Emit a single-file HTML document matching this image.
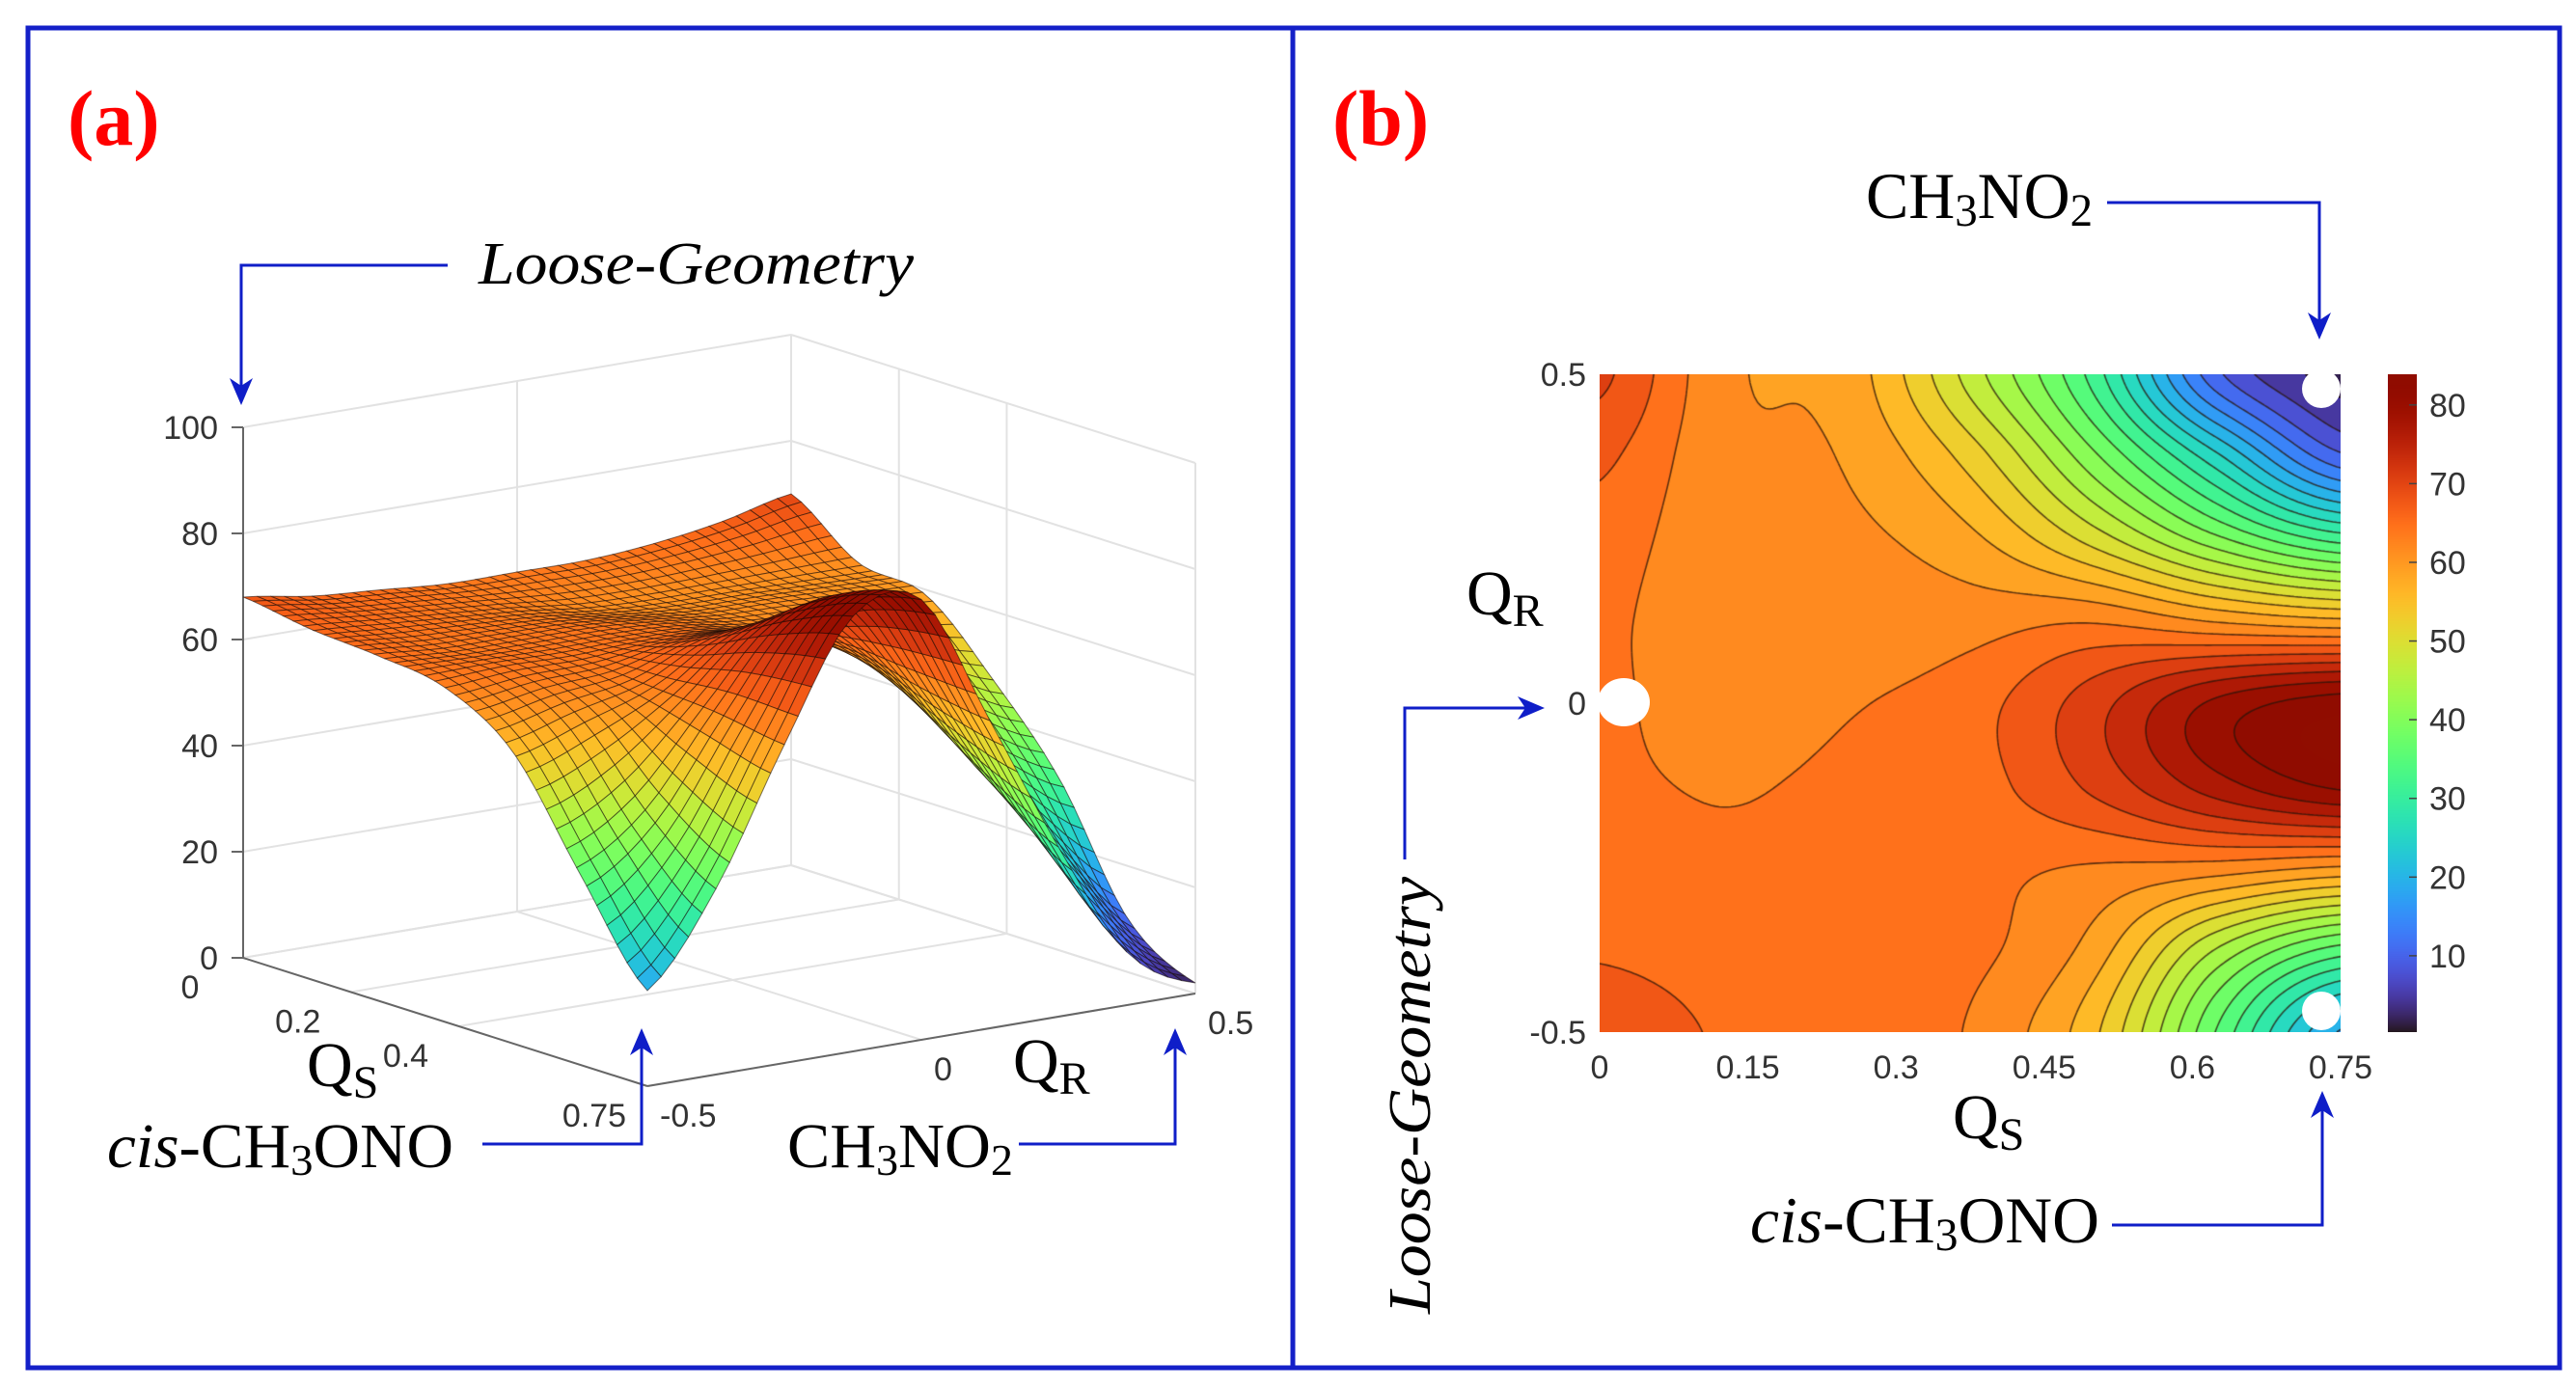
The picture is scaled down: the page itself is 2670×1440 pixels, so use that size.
<!DOCTYPE html>
<html><head><meta charset="utf-8">
<style>
html,body{margin:0;padding:0;background:#fff;}
#wrap{position:relative;width:2670px;height:1440px;overflow:hidden;}
canvas,svg{position:absolute;left:0;top:0;}
</style></head>
<body>
<div id="wrap">
<canvas id="cmap" width="768" height="682" style="left:1658px;top:388px;"></canvas>
<canvas id="cbar" width="30" height="682" style="left:2475px;top:388px;"></canvas>
<svg id="svg" width="2670" height="1440" viewBox="0 0 2670 1440">
 <rect x="29" y="29" width="2624" height="1389" fill="none" stroke="#1420c8" stroke-width="5"/>
 <line x1="1340" y1="29" x2="1340" y2="1418" stroke="#1420c8" stroke-width="5"/>
 <g id="plot3d"></g>
 <g id="overlay" font-family="Liberation Serif, serif">
  <text x="70" y="150" font-size="82" font-weight="bold" fill="#ff0000">(a)</text>
  <text x="1381" y="150" font-size="82" font-weight="bold" fill="#ff0000">(b)</text>

  <text x="496" y="294" font-size="62" font-style="italic" textLength="451" lengthAdjust="spacingAndGlyphs">Loose-Geometry</text>
  <polyline points="464,275 250,275 250,412" fill="none" stroke="#0f1ec8" stroke-width="3"/>
  <polygon points="250,420 238,392 250,400 262,392" fill="#0f1ec8"/>

  <text x="111" y="1210" font-size="66" textLength="359" lengthAdjust="spacingAndGlyphs"><tspan font-style="italic">cis</tspan>-CH<tspan font-size="46" dy="8">3</tspan><tspan dy="-8">ONO</tspan></text>
  <polyline points="500,1186 665,1186 665,1074" fill="none" stroke="#0f1ec8" stroke-width="3"/>
  <polygon points="665,1066 653,1094 665,1086 677,1094" fill="#0f1ec8"/>

  <text x="816" y="1210" font-size="66" textLength="234" lengthAdjust="spacingAndGlyphs">CH<tspan font-size="46" dy="8">3</tspan><tspan dy="-8">NO</tspan><tspan font-size="46" dy="8">2</tspan></text>
  <polyline points="1056,1186 1218,1186 1218,1074" fill="none" stroke="#0f1ec8" stroke-width="3"/>
  <polygon points="1218,1066 1206,1094 1218,1086 1230,1094" fill="#0f1ec8"/>

  <text x="318" y="1126" font-size="66">Q<tspan font-size="48" dy="12">S</tspan></text>
  <text x="1050" y="1122" font-size="66">Q<tspan font-size="48" dy="12">R</tspan></text>

  <text x="1934" y="226" font-size="68" textLength="235" lengthAdjust="spacingAndGlyphs">CH<tspan font-size="48" dy="8">3</tspan><tspan dy="-8">NO</tspan><tspan font-size="48" dy="8">2</tspan></text>
  <polyline points="2184,210 2404,210 2404,343" fill="none" stroke="#0f1ec8" stroke-width="3"/>
  <polygon points="2404,352 2392,324 2404,332 2416,324" fill="#0f1ec8"/>

  <text x="1814" y="1288" font-size="68" textLength="362" lengthAdjust="spacingAndGlyphs"><tspan font-style="italic">cis</tspan>-CH<tspan font-size="48" dy="8">3</tspan><tspan dy="-8">ONO</tspan></text>
  <polyline points="2189,1270 2407,1270 2407,1140" fill="none" stroke="#0f1ec8" stroke-width="3"/>
  <polygon points="2407,1131 2395,1159 2407,1151 2419,1159" fill="#0f1ec8"/>

  <text transform="translate(1482,1362) rotate(-90)" x="0" y="0" font-size="62" font-style="italic" textLength="453" lengthAdjust="spacingAndGlyphs">Loose-Geometry</text>
  <polyline points="1456,891 1456,734 1592,734" fill="none" stroke="#0f1ec8" stroke-width="3"/>
  <polygon points="1601,734 1573,722 1581,734 1573,746" fill="#0f1ec8"/>

  <text x="1520" y="637" font-size="66">Q<tspan font-size="48" dy="12">R</tspan></text>
  <text x="2024" y="1180" font-size="66">Q<tspan font-size="48" dy="12">S</tspan></text>
 </g>
 <g id="axesb" font-family="Liberation Sans, sans-serif" font-size="34" fill="#333"></g>
 <ellipse cx="1683" cy="728" rx="27" ry="25" fill="#fff"/>
 <ellipse cx="2406" cy="403" rx="20" ry="20" fill="#fff"/>
 <ellipse cx="2406" cy="1048" rx="20" ry="20" fill="#fff"/>
</svg>
</div>
<script>
// ---- data (energy surface) ----
const qsVals=[0,0.125,0.25,0.375,0.5,0.625,0.75];
const qrVals=[-0.5,-0.375,-0.25,-0.125,0,0.125,0.25,0.375,0.5];
const energy=[
 [68,66,65,64,64,64,65,67,70],
 [66,65,64,63,61.5,61,61,61,61],
 [65,64,64,64,63,61.5,61,60,59],
 [63,64,64,65,65,62,58,53,47],
 [55,59,63,70,71,63,50,40,32],
 [36,45,62,77,79,60,40,25,10],
 [18,35,60,82,83,58,32,10,2]];
const zTicks=[0,20,40,60,80,100];
const qsTicks3d=[0,0.2,0.4,0.75];
const qsTickLabels3d=['0','0.2','0.4','0.75'];
const qrTicks3d=[-0.5,0,0.5];
const qrTickLabels3d=['-0.5','0','0.5'];
const qsTicksB=[0,0.15,0.3,0.45,0.6,0.75];
const qsTickLabelsB=['0','0.15','0.3','0.45','0.6','0.75'];
const qrTicksB=[-0.5,0,0.5];
const qrTickLabelsB=['-0.5','0','0.5'];
const cbTicks=[10,20,30,40,50,60,70,80];
const cMin=0.3, cMax=83.9, levelStep=3;

const NS='http://www.w3.org/2000/svg';
function turbo(t){t=Math.max(0,Math.min(1,t));
 const r=0.13572138+t*(4.61539260+t*(-42.66032258+t*(132.13108234+t*(-152.94239396+t*59.28637943))));
 const g=0.09140261+t*(2.19418839+t*(4.84296658+t*(-14.18503333+t*(4.27729857+t*2.82956604))));
 const b=0.10667330+t*(12.64194608+t*(-60.58204836+t*(110.36276771+t*(-89.90310912+t*27.34824973))));
 return [Math.round(255*Math.max(0,Math.min(1,r))),Math.round(255*Math.max(0,Math.min(1,g))),Math.round(255*Math.max(0,Math.min(1,b)))];}
function cr(p0,p1,p2,p3,t){return 0.5*((2*p1)+(-p0+p2)*t+(2*p0-5*p1+4*p2-p3)*t*t+(-p0+3*p1-3*p2+p3)*t*t*t);}
function getE(i,j){i=Math.max(0,Math.min(qsVals.length-1,i));j=Math.max(0,Math.min(qrVals.length-1,j));return energy[i][j];}
function E(qs,qr){
 const u=(qs-qsVals[0])/(qsVals[1]-qsVals[0]), v=(qr-qrVals[0])/(qrVals[1]-qrVals[0]);
 let i=Math.min(Math.floor(u),qsVals.length-2), j=Math.min(Math.floor(v),qrVals.length-2);
 i=Math.max(0,i); j=Math.max(0,j);
 const tu=u-i, tv=v-j, col=[];
 for(let a=-1;a<=2;a++){col.push(cr(getE(i+a,j-1),getE(i+a,j),getE(i+a,j+1),getE(i+a,j+2),tv));}
 return cr(col[0],col[1],col[2],col[3],tu);}

// ---- panel (b) contour ----
const PX0=1658,PX1=2426,PY0=388,PY1=1070;
const xB=q=>PX0+(q-0)/(0.75)*(PX1-PX0);
const yB=q=>PY1-(q+0.5)/1*(PY1-PY0);
(function(){
 const c=document.getElementById('cmap'),ctx=c.getContext('2d');
 const W=c.width,H=c.height,img=ctx.createImageData(W,H);
 const lvl=v=>Math.floor((v-cMin)/levelStep);
 for(let y=0;y<H;y++){const qr=0.5-(y+0.5)/H;
  for(let x=0;x<W;x++){const qs=(x+0.5)/W*0.75;const v=E(qs,qr);
   const k=lvl(v);const mid=Math.min(cMax,cMin+(k+0.5)*levelStep);
   const col=turbo((mid-cMin)/(cMax-cMin));const o=(y*W+x)*4;
   img.data[o]=col[0];img.data[o+1]=col[1];img.data[o+2]=col[2];img.data[o+3]=255;}}
 ctx.putImageData(img,0,0);
 const NX=192,NY=170,g=[];
 for(let i=0;i<=NX;i++){g.push([]);for(let j=0;j<=NY;j++){g[i].push(E(i/NX*0.75,0.5-j/NY));}}
 ctx.strokeStyle='rgba(40,20,10,0.75)';ctx.lineWidth=1.6;ctx.beginPath();
 const sx=W/NX,sy=H/NY;
 for(let L=cMin+levelStep;L<cMax;L+=levelStep){
  for(let i=0;i<NX;i++)for(let j=0;j<NY;j++){
   const a=g[i][j],b=g[i+1][j],cc=g[i+1][j+1],d=g[i][j+1];const pts=[];
   const ed=(v1,v2,x1,y1,x2,y2)=>{if((v1<L)!==(v2<L)){const t=(L-v1)/(v2-v1);pts.push([x1+(x2-x1)*t,y1+(y2-y1)*t]);}};
   ed(a,b,i,j,i+1,j);ed(b,cc,i+1,j,i+1,j+1);ed(cc,d,i+1,j+1,i,j+1);ed(d,a,i,j+1,i,j);
   for(let p=0;p+1<pts.length;p+=2){ctx.moveTo(pts[p][0]*sx,pts[p][1]*sy);ctx.lineTo(pts[p+1][0]*sx,pts[p+1][1]*sy);}
  }}
 ctx.stroke();
 const cb=document.getElementById('cbar'),cx=cb.getContext('2d');
 for(let y=0;y<cb.height;y++){const col=turbo(1-y/cb.height);cx.fillStyle='rgb('+col+')';cx.fillRect(0,y,cb.width,1);}
 const ax=document.getElementById('axesb');
 const cbY=v=>PY1-(v-cMin)/(cMax-cMin)*(PY1-PY0);
 qsTicksB.forEach((q,k)=>{const t=document.createElementNS(NS,'text');
  
  
  t.setAttribute('x',xB(q));t.setAttribute('y',PY1+48);t.setAttribute('text-anchor','middle');t.textContent=qsTickLabelsB[k];ax.appendChild(t);});
 qrTicksB.forEach((q,k)=>{const t=document.createElementNS(NS,'text');
  
  
  t.setAttribute('x',PX0-14);t.setAttribute('y',yB(q)+12);t.setAttribute('text-anchor','end');t.textContent=qrTickLabelsB[k];ax.appendChild(t);});
 cbTicks.forEach(v=>{const t=document.createElementNS(NS,'text');
  
  
  t.setAttribute('x',2518);t.setAttribute('y',cbY(v)+12);t.textContent=v;ax.appendChild(t);
  const l=document.createElementNS(NS,'line');
  
  
  l.setAttribute('x1',2497);l.setAttribute('x2',2505);l.setAttribute('y1',cbY(v));l.setAttribute('y2',cbY(v));l.setAttribute('stroke','#444');l.setAttribute('stroke-width','1.5');ax.appendChild(l);});
})();

// ---- panel (a) 3D surface ----
const Lp=[252,993],Fp=[671,1126],Bp=[820,897],zScale=5.5;
function proj(qs,qr,z){const a=qs/0.75,b=qr+0.5;
 return [Lp[0]+a*(Fp[0]-Lp[0])+b*(Bp[0]-Lp[0]), Lp[1]+a*(Fp[1]-Lp[1])+b*(Bp[1]-Lp[1])-z*zScale];}
(function(){
 const G=document.getElementById('plot3d');
 const mk=(tag,attrs)=>{const e=document.createElementNS(NS,tag);for(const k in attrs)e.setAttribute(k,attrs[k]);G.appendChild(e);return e;};
 const line=(p,q,col,w)=>{const e=mk('line',{x1:p[0],y1:p[1],x2:q[0],y2:q[1],stroke:col,'stroke-width':w});
  
  };
 const gc='#e2e2e2';
 zTicks.forEach(z=>{line(proj(0,-0.5,z),proj(0,0.5,z),gc,2);line(proj(0,0.5,z),proj(0.75,0.5,z),gc,2);});
 qrTicks3d.forEach(q=>{line(proj(0,q,0),proj(0,q,100),gc,2);line(proj(0,q,0),proj(0.75,q,0),gc,2);});
 qsTicks3d.forEach(q=>{line(proj(q,0.5,0),proj(q,0.5,100),gc,2);line(proj(q,-0.5,0),proj(q,0.5,0),gc,2);});
 const axc='#666';
 const a1=mk('line',{x1:Lp[0],y1:proj(0,-0.5,100)[1],x2:Lp[0],y2:Lp[1],stroke:axc,'stroke-width':2});
 
 
 const a2=mk('line',{x1:Lp[0],y1:Lp[1],x2:Fp[0],y2:Fp[1],stroke:axc,'stroke-width':2});
 
 
 const R=proj(0.75,0.5,0);
 const a3=mk('line',{x1:Fp[0],y1:Fp[1],x2:R[0],y2:R[1],stroke:axc,'stroke-width':2});
 
 
 const tf='Liberation Sans, sans-serif';
 zTicks.forEach(z=>{const p=proj(0,-0.5,z);
  const t=mk('text',{x:p[0]-26,y:p[1]+12,'text-anchor':'end','font-family':tf,'font-size':34,fill:'#333'});
  
  
  t.textContent=z;
  const l=mk('line',{x1:p[0]-12,y1:p[1],x2:p[0],y2:p[1],stroke:axc,'stroke-width':2});
  
  });
 qsTicks3d.forEach((q,k)=>{const p=proj(q,-0.5,0);
  const t=mk('text',{x:p[0]-55,y:p[1]+42,'text-anchor':'middle','font-family':tf,'font-size':34,fill:'#333'});
  
  
  t.textContent=qsTickLabels3d[k];});
 qrTicks3d.forEach((q,k)=>{const p=proj(0.75,q,0);
  const t=mk('text',{x:p[0]+13,y:p[1]+42,'text-anchor':'start','font-family':tf,'font-size':34,fill:'#333'});
  
  
  t.textContent=qrTickLabels3d[k];});
 const NQ=40,NR=40,cells=[];
 for(let i=0;i<NQ;i++)for(let j=0;j<NR;j++){
  const s0=i/NQ*0.75,s1=(i+1)/NQ*0.75,r0=-0.5+j/NR,r1=-0.5+(j+1)/NR;
  const z00=E(s0,r0),z10=E(s1,r0),z11=E(s1,r1),z01=E(s0,r1);
  const depth=(0.75-(s0+s1)/2)/0.75+((r0+r1)/2+0.5);
  cells.push({pts:[proj(s0,r0,z00),proj(s1,r0,z10),proj(s1,r1,z11),proj(s0,r1,z01)],z:(z00+z10+z11+z01)/4,depth});}
 cells.sort((a,b)=>b.depth-a.depth);
 cells.forEach(c=>{const col=turbo((c.z-cMin)/(cMax-cMin));
  const p=mk('polygon',{points:c.pts.map(q=>q[0].toFixed(1)+','+q[1].toFixed(1)).join(' '),fill:'rgb('+col+')',stroke:'rgba(20,10,5,0.55)','stroke-width':1});
  
  });
})();
</script>
</body></html>
